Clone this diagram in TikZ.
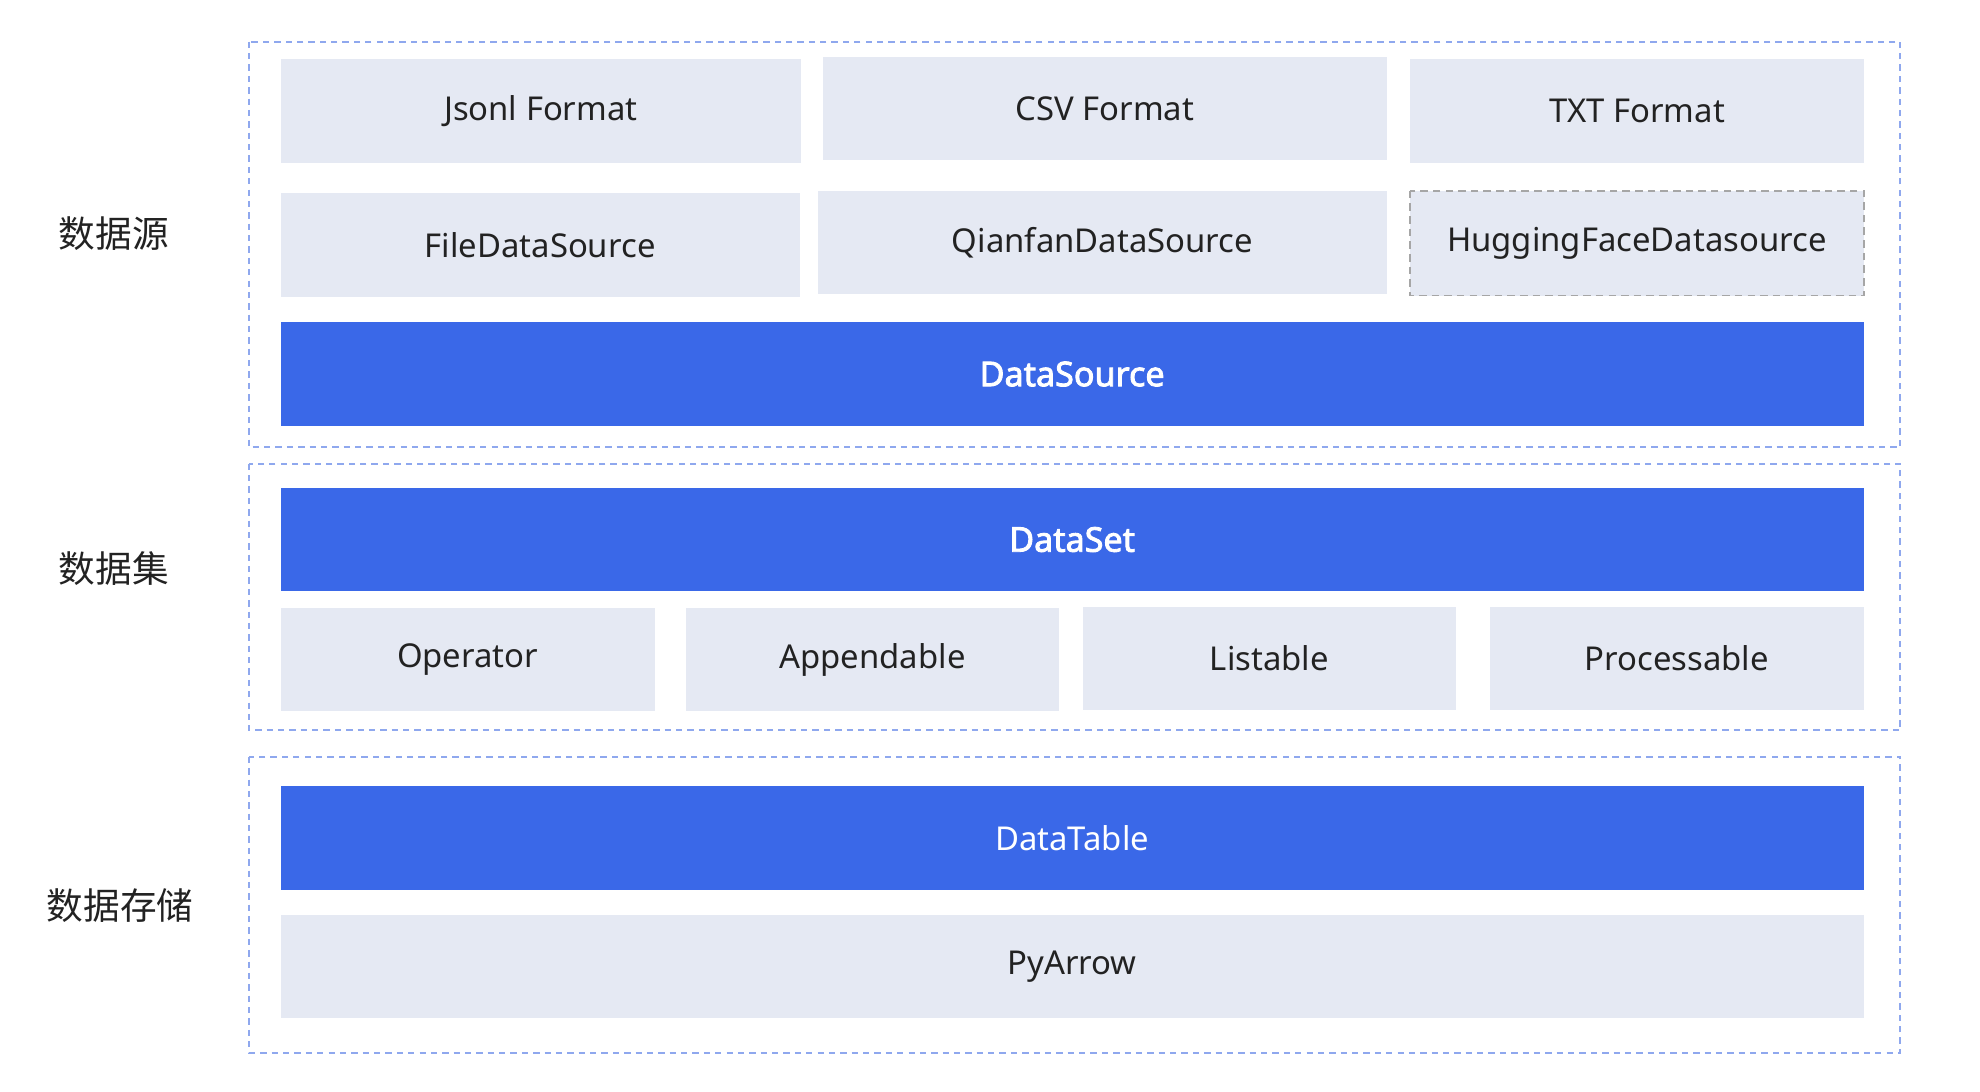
\documentclass[tikz,border=0pt]{standalone}
\usepackage{fontspec}
\setmainfont{Noto Sans}[BoldFont={Noto Sans},BoldFeatures={FakeBold=2.5}]
\newfontfamily\cjk{Noto Sans CJK SC}
\definecolor{blu}{HTML}{3A68E8}
\definecolor{gry}{HTML}{E5E9F3}
\definecolor{dash}{HTML}{8FA8EE}
\definecolor{txt}{HTML}{222222}
\begin{document}
\begin{tikzpicture}[x=1pt,y=-1pt,
 lt/.style={fill=gry,draw=none,text=txt,font=\fontsize{26}{30}\selectfont},
 bl/.style={fill=blu,draw=none,text=white,font=\bfseries\fontsize{27}{32}\selectfont},
 grp/.style={draw=dash,dashed,line width=1.5pt,dash pattern=on 5pt off 4pt},
 lab/.style={text=txt,font=\cjk\fontsize{29}{34}\selectfont}]
\useasboundingbox (0,0) rectangle (1567,864);
\newcommand\bx[6]{\path[#1] (#3,#4) rectangle node[#1] (#2) {#6} (#5-0,#4+82);}
\draw[grp] (197,33) rectangle (1504,354);
\draw[grp] (197,367) rectangle (1504,578);
\draw[grp] (197,599) rectangle (1504,833);
\bx{lt}{jsonl}{222}{47}{634}{Jsonl Format}
\bx{lt}{csv}{651}{45}{1098}{CSV Format}
\bx{lt}{txt}{1116}{47}{1475}{TXT Format}
\bx{lt}{file}{222}{153}{633}{FileDataSource}
\bx{lt}{qf}{647}{151}{1098}{QianfanDataSource}
\path[lt,draw=black!35,line width=1.3pt,dash pattern=on 6pt off 4pt] (1116,151) rectangle (1475,234);
\node[text=txt,font=\fontsize{26}{30}\selectfont] (hf) at (1295.5,192.5) {HuggingFaceDatasource};
\bx{bl}{ds}{222}{255}{1475}{DataSource}
\bx{bl}{dset}{222}{386}{1475}{DataSet}
\bx{lt}{op}{222}{481}{518}{Operator}
\bx{lt}{app}{543}{481}{838}{Appendable}
\bx{lt}{lst}{857}{480}{1152}{Listable}
\bx{lt}{proc}{1179}{480}{1475}{Processable}
\path[fill=blu] (222,622) rectangle node[text=white,font=\fontsize{26}{30}\selectfont] (dt) {DataTable} (1475,704);
\bx{lt}{pa}{222}{724}{1475}{PyArrow}
\node[lab] (l1) at (90,185) {数据源};
\node[lab] (l2) at (90,450) {数据集};
\node[lab] (l3) at (95,717) {数据存储};
\end{tikzpicture}
\end{document}
